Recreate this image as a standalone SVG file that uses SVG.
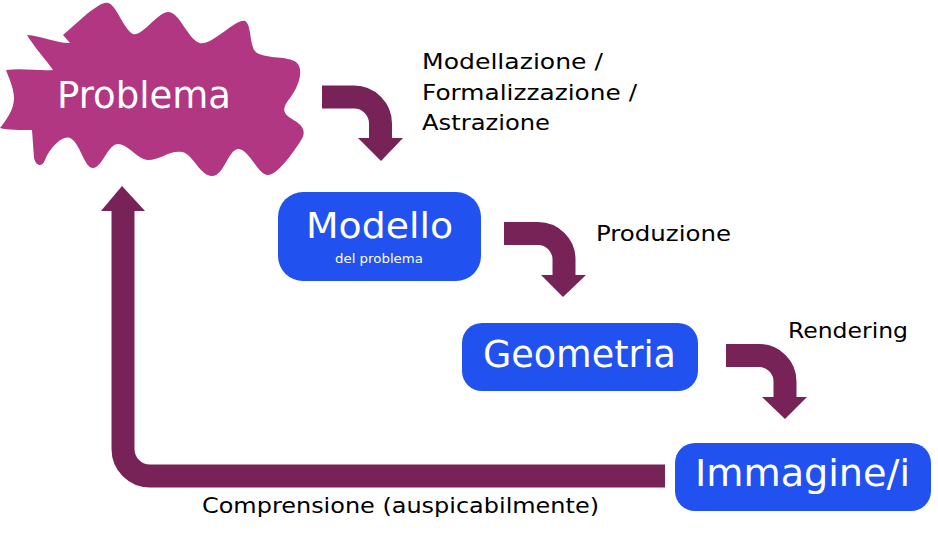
<svg xmlns="http://www.w3.org/2000/svg" width="938" height="533" viewBox="0 0 938 533">
<style>
.lbl{font-family:"DejaVu Sans","Liberation Sans",sans-serif;fill:#000;font-size:22px}
.big{font-family:"DejaVu Sans","Liberation Sans",sans-serif;fill:#fff;text-anchor:start}
.box{fill:#2152ef}
.shaft{fill:none;stroke:#772358;stroke-width:23}
.head{fill:#772358}
</style>
<rect width="938" height="533" fill="#fff"/>
<g id="connectors">
<path class="shaft" d="M322,97 H354 A26.5,26.5 0 0 1 380.5,123.5 V139"/>
<polygon class="head" points="358,138 403,138 381,161"/>
<path class="shaft" d="M504,233.5 H538 A26,26 0 0 1 564,259.5 V276"/>
<polygon class="head" points="541,275 586,275 563,297"/>
<path class="shaft" d="M726,355.5 H759 A26,26 0 0 1 785,381.5 V398"/>
<polygon class="head" points="762,397 807,397 785,419"/>
<path class="shaft" d="M665,476 H150 A27,27 0 0 1 123,449 V210"/>
<polygon class="head" points="101,211 122,186 145,211"/>
</g>
<g id="problema">
<path fill="#b13783" d="M63,35 L88,13 C98,6 103,2 108,3 C116,4 124,30 133,34 C142,37 158,12 168,12 C180,12 188,40 200,43 C212,46 236,18 245,21 C252,24 249,48 257,53 C268,59 288,56 296,62 C304,68 300,85 290,98 C282,108 282,113 292,119 C304,126 307,132 300,142 C290,157 276,176 267,175 C258,174 248,148 238,149 C228,150 224,176 212,176 C200,176 193,154 182,152 C170,150 160,160 148,160 C138,160 128,144 118,144 C108,144 102,168 93,168 C84,168 80,142 70,138 C62,135 50,148 45,160 C42,168 36,166 34,158 L32,130 C20,130 8,130 0,128 C6,120 14,110 14,98 C14,88 8,76 6,70 C22,68 40,71 53,70 C46,60 32,44 27,35 C42,36 60,44 70,43 Z"/>
<text class="big" x="57" y="108" font-size="38" textLength="174" lengthAdjust="spacingAndGlyphs">Problema</text>
</g>
<g id="modello">
<rect class="box" x="278" y="192" width="203" height="89" rx="25"/>
<text class="big" x="306" y="238" font-size="36" textLength="147" lengthAdjust="spacingAndGlyphs">Modello</text>
<text class="big" x="335" y="263" font-size="11.5" textLength="88" lengthAdjust="spacingAndGlyphs">del problema</text>
</g>
<g id="geometria">
<rect class="box" x="462" y="323" width="236" height="68" rx="20"/>
<text class="big" x="483" y="367" font-size="38" textLength="193" lengthAdjust="spacingAndGlyphs">Geometria</text>
</g>
<g id="immagine">
<rect class="box" x="675" y="443" width="256" height="68" rx="20"/>
<text class="big" x="695" y="486" font-size="38" textLength="215" lengthAdjust="spacingAndGlyphs">Immagine/i</text>
</g>
<g id="labels">
<text class="lbl" x="422" y="69" textLength="181" lengthAdjust="spacingAndGlyphs">Modellazione  /</text>
<text class="lbl" x="422" y="100" textLength="215" lengthAdjust="spacingAndGlyphs">Formalizzazione  /</text>
<text class="lbl" x="422" y="130" textLength="128" lengthAdjust="spacingAndGlyphs">Astrazione</text>
<text class="lbl" x="596" y="241" textLength="135" lengthAdjust="spacingAndGlyphs">Produzione</text>
<text class="lbl" x="788" y="338" textLength="120" lengthAdjust="spacingAndGlyphs">Rendering</text>
<text class="lbl" x="202" y="513" textLength="397" lengthAdjust="spacingAndGlyphs">Comprensione (auspicabilmente)</text>
</g>
</svg>
